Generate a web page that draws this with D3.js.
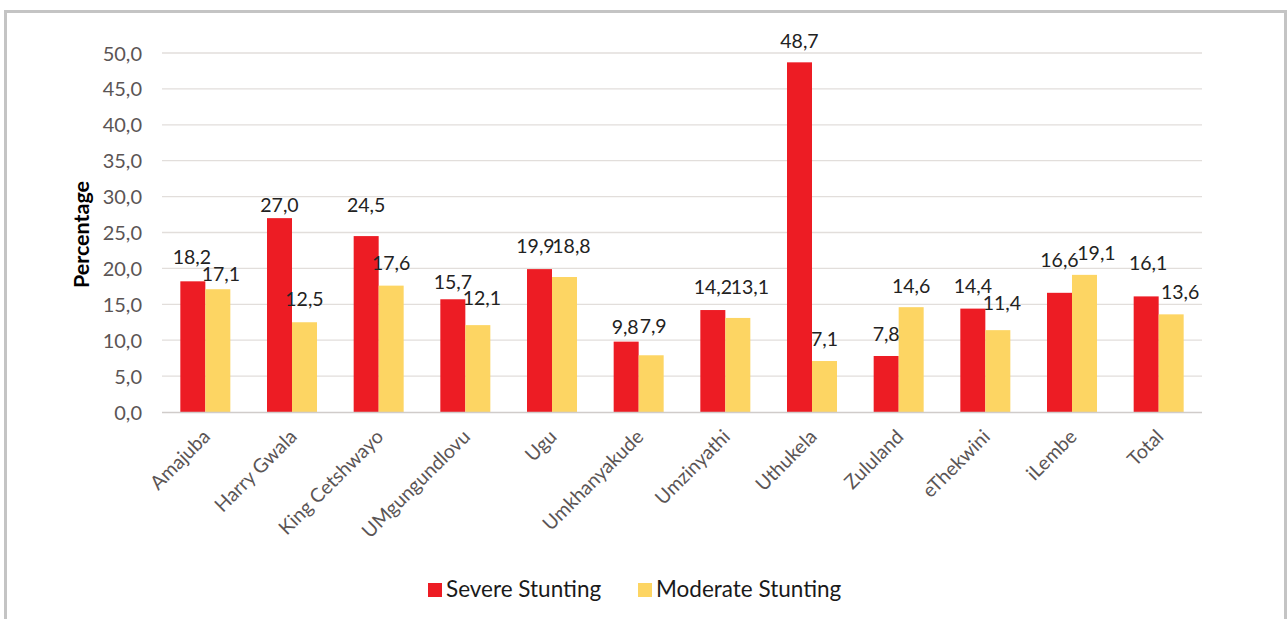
<!DOCTYPE html>
<html>
<head>
<meta charset="utf-8">
<script src="https://cdn.jsdelivr.net/npm/d3@7"></script>
<style>
  html, body { margin: 0; padding: 0; background: #fff; }
  svg { display: block; font-family: Lato, "Open Sans", sans-serif; }
</style>
</head>
<body>
<svg id="chart" width="1287" height="619"></svg>
<script>
const categories = ["Amajuba", "Harry Gwala", "King Cetshwayo", "UMgungundlovu", "Ugu", "Umkhanyakude", "Umzinyathi", "Uthukela", "Zululand", "eThekwini", "iLembe", "Total"];
const seriesNames = ["Severe Stunting", "Moderate Stunting"];
const severe = [18.2, 27.0, 24.5, 15.7, 19.9, 9.8, 14.2, 48.7, 7.8, 14.4, 16.6, 16.1];
const moderate = [17.1, 12.5, 17.6, 12.1, 18.8, 7.9, 13.1, 7.1, 14.6, 11.4, 19.1, 13.6];
const yTicks = [0, 5, 10, 15, 20, 25, 30, 35, 40, 45, 50];
const colors = ["#ED1C24", "#FDD563"];
// label placement as in the reference (layout only): lift above bar top and horizontal nudge, px
const severeLabelLift = [17, 6, 24, 10, 16, 8, 16, 14, 15, 16, 26, 26];
const moderateLabelLift = [8, 16, 16, 20, 24, 22, 24, 15, 14, 20, 15, 15];
const severeLabelNudge = [-1, 0, 0, 0, -4, -1, 0, 0, 0, 0, 0, 2];
const moderateLabelNudge = [3, 0, 0, 4, 7, 2, 12, 0, 0, 4, 12, 9];

const svg = d3.select("#chart");
const pLeft = 162, pRight = 1202, pTop = 53, pBottom = 412;

// outer border
svg.append("rect").attr("x", 5.5).attr("y", 11.5).attr("width", 1280).attr("height", 640)
  .attr("fill", "none").attr("stroke", "#C4C4C4").attr("stroke-width", 3);

const x0 = d3.scaleBand().domain(categories).range([pLeft, pRight]).padding(0);
const barW = 25;
const pOuter = (x0.step() / barW - 2) / 2;
const x1 = d3.scaleBand().domain(seriesNames).range([0, x0.bandwidth()]).paddingInner(0).paddingOuter(pOuter);
const y = d3.scaleLinear().domain([0, 50]).range([pBottom, pTop]);

// gridlines
svg.append("g").selectAll("line").data(yTicks.filter(d => d > 0)).join("line")
  .attr("x1", pLeft).attr("x2", pRight)
  .attr("y1", d => y(d)).attr("y2", d => y(d))
  .attr("stroke", "#E2DEDB").attr("stroke-width", 1.3);

const fmt = v => d3.format(".1f")(v).replace(".", ",");

// y axis labels
const yAxis = d3.axisLeft(y).tickValues(yTicks).tickSize(0).tickPadding(0).tickFormat(fmt);
const yg = svg.append("g").attr("transform", `translate(142,0)`).call(yAxis);
yg.select(".domain").remove();
yg.selectAll("text").attr("fill", "#5b5555").style("font-size", "20px")
  .style("font-family", "Lato, 'Open Sans', sans-serif").attr("dy", "0.35em");

// y title
svg.append("text").attr("transform", `translate(89,${(pTop + pBottom) / 2 + 2}) rotate(-90)`)
  .attr("text-anchor", "middle").attr("font-weight", "bold").attr("font-size", 21.5)
  .attr("fill", "#000").text("Percentage");

const data = categories.map((c, i) => ({
  cat: c,
  vals: [severe[i], moderate[i]],
  lifts: [severeLabelLift[i], moderateLabelLift[i]],
  nudges: [severeLabelNudge[i], moderateLabelNudge[i]]
}));

const groups = svg.append("g").selectAll("g").data(data).join("g")
  .attr("transform", d => `translate(${x0(d.cat)},0)`);

groups.selectAll("rect").data(d => d.vals.map((v, j) => ({ s: seriesNames[j], v, j }))).join("rect")
  .attr("x", d => x1(d.s)).attr("width", x1.bandwidth())
  .attr("y", d => y(d.v)).attr("height", d => y(0) - y(d.v))
  .attr("fill", d => colors[d.j]);

// x axis line
svg.append("line").attr("x1", pLeft).attr("x2", pRight).attr("y1", pBottom + 0.5).attr("y2", pBottom + 0.5)
  .attr("stroke", "#D0CCCA").attr("stroke-width", 1.5);

groups.selectAll("text").data(d => d.vals.map((v, j) => ({ s: seriesNames[j], v, j, lift: d.lifts[j], nudge: d.nudges[j] }))).join("text")
  .attr("x", d => x1(d.s) + x1.bandwidth() / 2 + d.nudge).attr("y", d => y(d.v) - d.lift)
  .attr("text-anchor", "middle").attr("font-size", 19.5).attr("fill", "#222")
  .text(d => fmt(d.v));

// x labels
svg.append("g").selectAll("text").data(categories).join("text")
  .attr("transform", d => `translate(${x0(d) + x0.bandwidth() / 2 + 6},${pBottom + 26}) rotate(-45)`)
  .attr("text-anchor", "end").attr("font-size", 19.5).attr("fill", "#5b5555")
  .text(d => d);

// legend
const legend = svg.append("g");
const legItems = [{ name: seriesNames[0], x: 428 }, { name: seriesNames[1], x: 638 }];
legItems.forEach((it, i) => {
  legend.append("rect").attr("x", it.x).attr("y", 583).attr("width", 14).attr("height", 14).attr("fill", colors[i]);
  legend.append("text").attr("x", it.x + 18).attr("y", 597).attr("font-size", 22.5).attr("fill", "#1a1a1a").text(it.name);
});
</script>
</body>
</html>
